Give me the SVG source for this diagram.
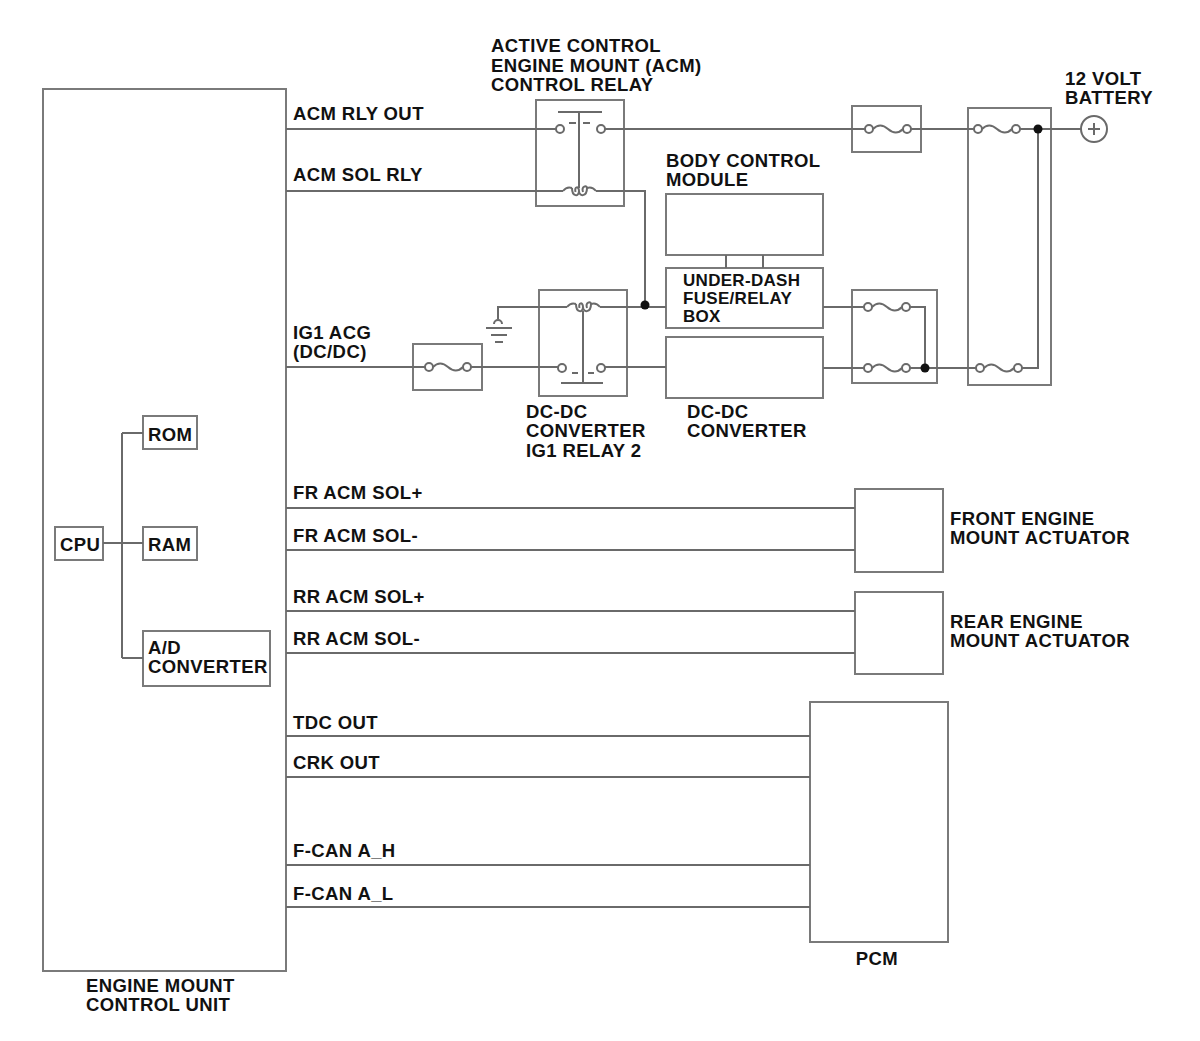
<svg xmlns="http://www.w3.org/2000/svg" width="1200" height="1041" viewBox="0 0 1200 1041">
<style>
.bx{fill:none;stroke:#7a7a7a;stroke-width:2}
.w{fill:none;stroke:#6a6a6a;stroke-width:2}
.t{font-family:"Liberation Sans",Arial,sans-serif;font-weight:bold;font-size:18.5px;letter-spacing:0.4px;fill:#111}
.s{font-size:17px;letter-spacing:0.3px}
.c{fill:#fff;stroke:#6a6a6a;stroke-width:2}
.d{fill:#111}
</style>
<defs>
<g id="fuse">
<circle class="c" cx="0" cy="0" r="4"/>
<circle class="c" cx="38" cy="0" r="4"/>
<path class="w" d="M4,0 Q11,-7 19,0 T34,0"/>
</g>
<g id="coil">
<path class="w" d="M0,0 Q4,-5 9,-3 M24,-3 Q29,-5 33,0"/>
<path class="w" d="M9,-3 C9,6 16,6 16,0 C16,-5 11,-5 12.5,1 M16,0 C16,6 24,6 24,-3 C24,-6 18,-5 20,1"/>
</g>
</defs>
<rect width="1200" height="1041" fill="#fff"/>

<g id="ecu">
<rect class="bx" x="43" y="89" width="243" height="882"/>
<text class="t" x="86" y="992">ENGINE MOUNT</text>
<text class="t" x="86" y="1011">CONTROL UNIT</text>
</g>
<g id="cpu"><rect class="bx" x="55" y="527" width="48" height="33"/><text class="t" x="60" y="551">CPU</text></g>
<g id="rom"><rect class="bx" x="143" y="416" width="54" height="33"/><text class="t" x="148" y="441">ROM</text></g>
<g id="ram"><rect class="bx" x="143" y="527" width="54" height="33"/><text class="t" x="148" y="551">RAM</text></g>
<g id="adc"><rect class="bx" x="143" y="631" width="127" height="55"/><text class="t" x="148" y="654">A/D</text><text class="t" x="148" y="673">CONVERTER</text></g>

<g id="pin-labels">
<text class="t" x="293" y="120">ACM RLY OUT</text>
<text class="t" x="293" y="181">ACM SOL RLY</text>
<text class="t" x="293" y="339">IG1 ACG</text>
<text class="t" x="293" y="358">(DC/DC)</text>
<text class="t" x="293" y="499">FR ACM SOL+</text>
<text class="t" x="293" y="542">FR ACM SOL-</text>
<text class="t" x="293" y="603">RR ACM SOL+</text>
<text class="t" x="293" y="645">RR ACM SOL-</text>
<text class="t" x="293" y="729">TDC OUT</text>
<text class="t" x="293" y="769">CRK OUT</text>
<text class="t" x="293" y="857">F-CAN A_H</text>
<text class="t" x="293" y="900">F-CAN A_L</text>
</g>

<g id="acm-relay">
<rect class="bx" x="536" y="100" width="88" height="106"/>
<line class="w" x1="558" y1="112" x2="602" y2="112"/>
<line class="w" x1="579" y1="112" x2="579" y2="188"/>
<line class="w" x1="569" y1="123" x2="576" y2="123"/>
<line class="w" x1="583" y1="123" x2="590" y2="123"/>
<circle class="c" cx="560" cy="129" r="4"/>
<circle class="c" cx="601" cy="129" r="4"/>
<use href="#coil" x="563" y="191"/>
<text class="t" x="491" y="52">ACTIVE CONTROL</text>
<text class="t" x="491" y="72">ENGINE MOUNT (ACM)</text>
<text class="t" x="491" y="91">CONTROL RELAY</text>
</g>

<g id="fuse-1"><rect class="bx" x="852" y="106" width="69" height="46"/><use href="#fuse" x="869" y="129"/></g>

<g id="main-fuse-box">
<rect class="bx" x="968" y="108" width="83" height="277"/>
<use href="#fuse" x="978" y="129"/>
<use href="#fuse" x="980" y="368"/>
</g>

<g id="battery">
<circle class="c" cx="1094" cy="129" r="13"/>
<path class="w" d="M1088,129 H1100 M1094,123 V135" stroke-width="1.5"/>
<text class="t" x="1065" y="85">12 VOLT</text>
<text class="t" x="1065" y="104">BATTERY</text>
</g>

<g id="bcm">
<rect class="bx" x="666" y="194" width="157" height="61"/>
<text class="t" x="666" y="167">BODY CONTROL</text>
<text class="t" x="666" y="186">MODULE</text>
</g>
<g id="under-dash">
<rect class="bx" x="666" y="268" width="157" height="60"/>
<text class="t s" x="683" y="286">UNDER-DASH</text>
<text class="t s" x="683" y="304">FUSE/RELAY</text>
<text class="t s" x="683" y="322">BOX</text>
</g>
<g id="dcdc-conv">
<rect class="bx" x="666" y="337" width="157" height="61"/>
<text class="t" x="687" y="418">DC-DC</text>
<text class="t" x="687" y="437">CONVERTER</text>
</g>

<g id="fuse-2">
<rect class="bx" x="852" y="290" width="85" height="93"/>
<use href="#fuse" x="868" y="307"/>
<use href="#fuse" x="868" y="368"/>
</g>

<g id="fuse-3"><rect class="bx" x="413" y="344" width="69" height="46"/><use href="#fuse" x="429" y="367"/></g>

<g id="ig1-relay">
<rect class="bx" x="539" y="290" width="88" height="106"/>
<use href="#coil" x="567" y="307"/>
<line class="w" x1="583" y1="311" x2="583" y2="383"/>
<line class="w" x1="572" y1="373" x2="578" y2="373"/>
<line class="w" x1="588" y1="373" x2="594" y2="373"/>
<line class="w" x1="561" y1="383" x2="603" y2="383"/>
<circle class="c" cx="562" cy="368" r="4"/>
<circle class="c" cx="601" cy="368" r="4"/>
<text class="t" x="526" y="418">DC-DC</text>
<text class="t" x="526" y="437">CONVERTER</text>
<text class="t" x="526" y="457">IG1 RELAY 2</text>
</g>

<g id="ground">
<path class="w" d="M567,307 H498 V319"/>
<path class="c" d="M494,324 A4,4 0 0 1 502,324"/>
<line class="w" x1="486" y1="328" x2="512" y2="328"/>
<line class="w" x1="491" y1="335" x2="507" y2="335"/>
<line class="w" x1="495" y1="342" x2="503" y2="342"/>
</g>

<g id="front-actuator">
<rect class="bx" x="855" y="489" width="88" height="83"/>
<text class="t" x="950" y="525">FRONT ENGINE</text>
<text class="t" x="950" y="544">MOUNT ACTUATOR</text>
</g>
<g id="rear-actuator">
<rect class="bx" x="855" y="592" width="88" height="82"/>
<text class="t" x="950" y="628">REAR ENGINE</text>
<text class="t" x="950" y="647">MOUNT ACTUATOR</text>
</g>
<g id="pcm">
<rect class="bx" x="810" y="702" width="138" height="240"/>
<text class="t" x="877" y="965" text-anchor="middle">PCM</text>
</g>

<g id="connectors">
<path class="w" d="M122,433 V658 M122,433 H143 M103,543 H143 M122,658 H143"/>
<path class="w" d="M286,129 H556 M605,129 H865 M911,129 H974 M1020,129 H1081"/>
<path class="w" d="M286,191 H563 M596,191 H645 V307 H666"/>
<path class="w" d="M600,307 H645"/>
<path class="w" d="M286,367 H425 M471,367 H558 M605,367 H666"/>
<path class="w" d="M823,307 H864 M910,307 H925 V368"/>
<path class="w" d="M823,368 H864 M910,368 H976 M1022,368 H1038 V129"/>
<path class="w" d="M726,255 V268 M763,255 V268"/>
<path class="w" d="M286,508 H855 M286,550 H855 M286,611 H855 M286,653 H855"/>
<path class="w" d="M286,736 H810 M286,777 H810 M286,865 H810 M286,907 H810"/>
<circle class="d" cx="645" cy="305" r="4.5"/>
<circle class="d" cx="925" cy="368" r="4.5"/>
<circle class="d" cx="1038" cy="129" r="4.5"/>
</g>
</svg>
